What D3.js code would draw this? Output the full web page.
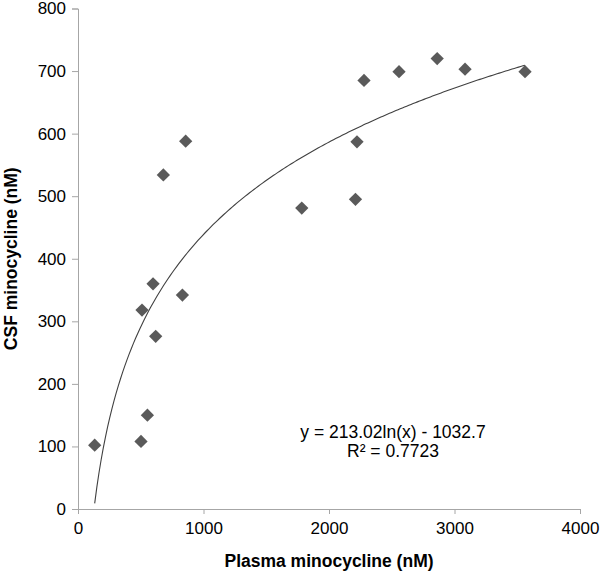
<!DOCTYPE html>
<html>
<head>
<meta charset="utf-8">
<script src="https://cdn.jsdelivr.net/npm/d3@7"></script>
<style>
  body { margin: 0; background: #fff; }
  text { font-family: "Liberation Sans", Arial, sans-serif; }
</style>
</head>
<body>
<div id="chart"></div>
<script>
// data
var plasma = [133, 502, 553, 510, 598, 619, 680, 832, 858, 1783, 2211, 2223, 2279, 2558, 2862, 3084, 3562];
var csf    = [102, 108, 150, 318, 360, 276, 534, 342, 588, 481, 495, 587, 685, 699, 720, 703, 699];
var xTicks = [0, 1000, 2000, 3000, 4000];
var yTicks = [0, 100, 200, 300, 400, 500, 600, 700, 800];
var fitA = 213.02, fitB = -1032.7; // printed log trendline

var svgWidth = 600, svgHeight = 571;
var margin = {left: 78, top: 8.5};

var svg = d3.select("#chart").append("svg")
    .attr("width", svgWidth)
    .attr("height", svgHeight);

var x = d3.scaleLinear().domain([0, 4000]).range([margin.left, 580]);
var y = d3.scaleLinear().domain([0, 800]).range([509, margin.top]);

var axisColor = "#a6a6a6";

// x axis
var gx = svg.append("g")
    .attr("transform", "translate(0," + y(0) + ")")
    .call(d3.axisBottom(x).tickValues(xTicks).tickFormat(d3.format("d")).tickSize(5).tickPadding(8));
// y axis
var gy = svg.append("g")
    .attr("transform", "translate(" + x(0) + ",0)")
    .call(d3.axisLeft(y).tickValues(yTicks).tickFormat(d3.format("d")).tickSize(6).tickPadding(6));

[gx, gy].forEach(function(g) {
    g.select(".domain").attr("stroke", axisColor);
    g.selectAll(".tick line").attr("stroke", axisColor);
    g.selectAll(".tick text").attr("fill", "#000").style("font-size", "17px")
        .style("font-family", "'Liberation Sans', Arial, sans-serif");
});

// trendline from the printed equation, over the data range
var xMin = d3.min(plasma), xMax = d3.max(plasma);
var fitPts = d3.range(0, 201).map(function(i) {
    var v = xMin + (xMax - xMin) * i / 200;
    return [v, fitA * Math.log(v) + fitB];
});
svg.append("path")
    .datum(fitPts)
    .attr("fill", "none")
    .attr("stroke", "#404040")
    .attr("stroke-width", 1.1)
    .attr("d", d3.line().x(function(d) { return x(d[0]); }).y(function(d) { return y(d[1]); }));

// diamond markers (rotated squares)
var pts = plasma.map(function(p, i) { return {x: p, y: csf[i]}; });
svg.selectAll(".pt")
    .data(pts)
    .enter().append("path")
    .attr("class", "pt")
    .attr("d", d3.symbol().type(d3.symbolSquare).size(88))
    .attr("fill", "#5a5a5a")
    .attr("transform", function(d) { return "translate(" + x(d.x) + "," + y(d.y) + ") rotate(45)"; });

// equation
svg.append("text")
    .attr("x", 393).attr("y", 438)
    .attr("text-anchor", "middle")
    .style("font-size", "17.5px")
    .text("y = 213.02ln(x) - 1032.7");
svg.append("text")
    .attr("x", 393).attr("y", 457)
    .attr("text-anchor", "middle")
    .style("font-size", "17.5px")
    .text("R² = 0.7723");

// axis titles
svg.append("text")
    .attr("x", (x(0) + x(4000)) / 2).attr("y", 567)
    .attr("text-anchor", "middle")
    .style("font-size", "17.5px").style("font-weight", "bold")
    .text("Plasma minocycline (nM)");
svg.append("text")
    .attr("transform", "translate(17," + y(400) + ") rotate(-90)")
    .attr("text-anchor", "middle")
    .style("font-size", "17.5px").style("font-weight", "bold")
    .text("CSF minocycline (nM)");
</script>
</body>
</html>
